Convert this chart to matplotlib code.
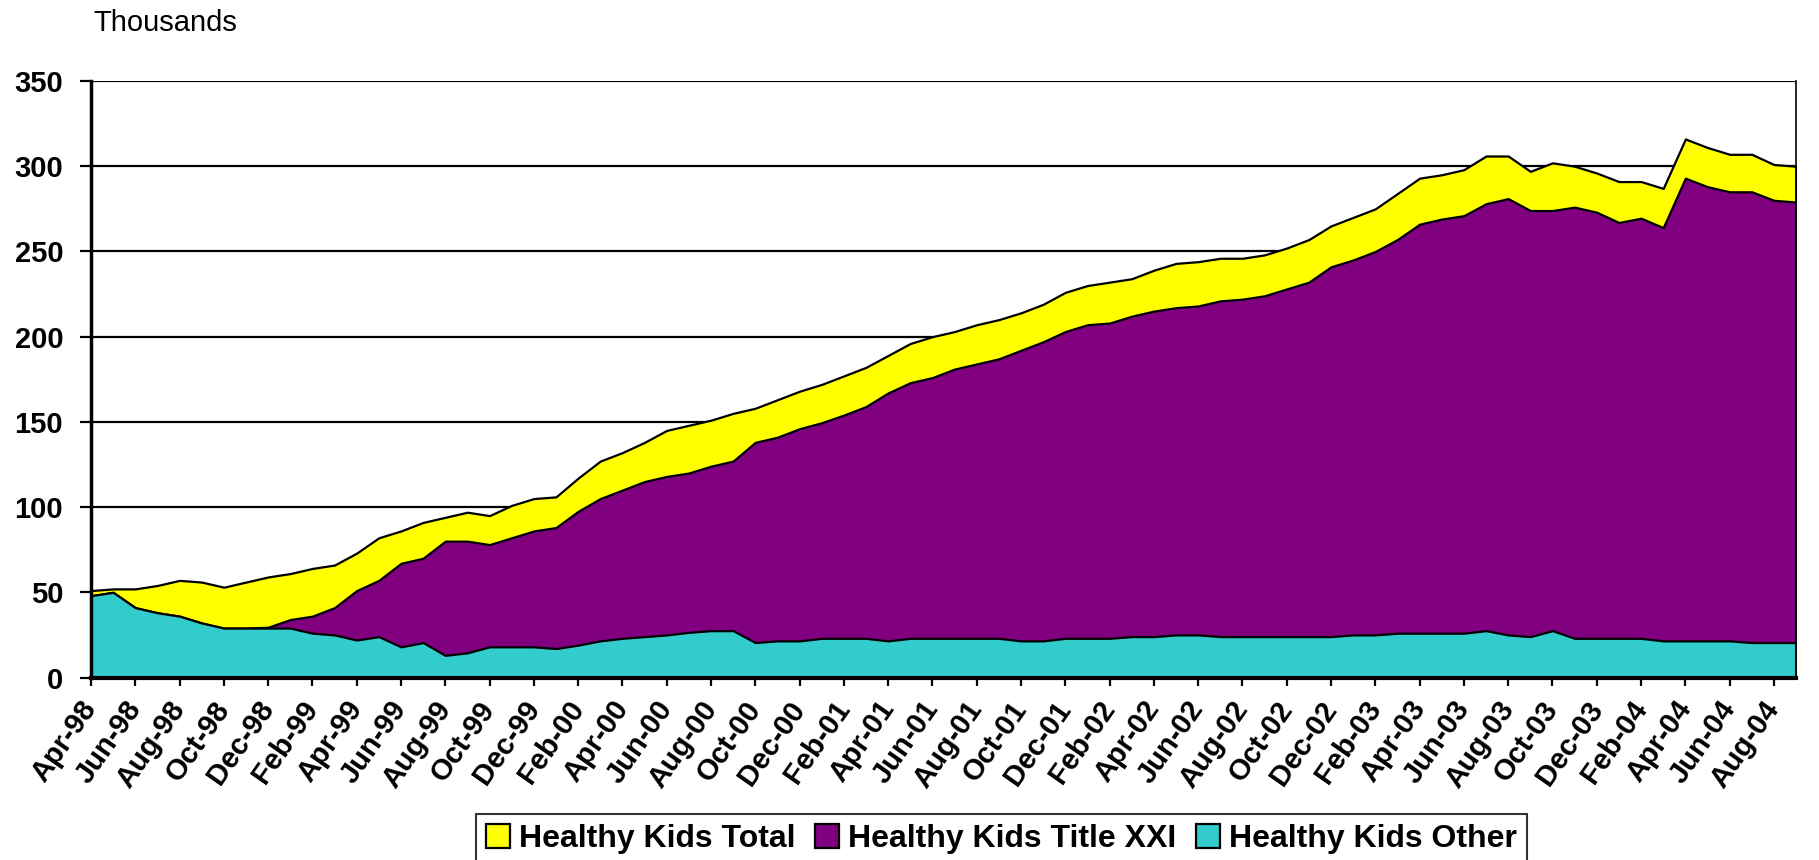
import matplotlib
matplotlib.use("Agg")
import matplotlib.pyplot as plt
import numpy as np

# ---- data (thousands), monthly Apr-98 .. Sep-04 ----
healthy_kids_total = [
    51, 52, 52, 54, 57, 56, 53, 56, 59,
    61, 64, 66, 73, 82, 86, 91, 94, 97, 95, 101, 105,
    106, 117, 127, 132, 138, 145, 148, 151, 155, 158, 163, 168,
    172, 177, 182, 189, 196, 200, 203, 207, 210, 214, 219, 226,
    230, 232, 234, 239, 243, 244, 246, 246, 248, 252, 257, 265,
    270, 275, 284, 293, 295, 298, 306, 306, 297, 302, 300, 296,
    291, 291, 287, 316, 311, 307, 307, 301, 300,
]
healthy_kids_title_xxi = [
    0, 0, 0, 0, 0, 0, 0, 0, 0.5,
    5, 10, 16, 29, 33, 49, 49.5, 67, 65.5, 60, 64, 68,
    71, 78.5, 83.5, 87, 91, 93, 93.5, 96.5, 99.5, 117.5, 119.5, 124.5,
    126.5, 131, 136, 145.5, 150, 153, 158, 161, 164, 170.5, 175.5, 180,
    184, 185, 188, 191, 192, 193, 197, 198, 200, 204, 208, 217,
    220, 225, 231, 240, 243, 245, 250.5, 256, 250, 246.5, 253, 250,
    244, 246.5, 242.5, 271.5, 266.5, 263.5, 264.5, 259.5, 258.5,
]
healthy_kids_other = [
    48, 50, 41, 38, 36, 32, 29, 29, 29,
    29, 26, 25, 22, 24, 18, 20.5, 13, 14.5, 18, 18, 18,
    17, 19, 21.5, 23, 24, 25, 26.5, 27.5, 27.5, 20.5, 21.5, 21.5,
    23, 23, 23, 21.5, 23, 23, 23, 23, 23, 21.5, 21.5, 23,
    23, 23, 24, 24, 25, 25, 24, 24, 24, 24, 24, 24,
    25, 25, 26, 26, 26, 26, 27.5, 25, 24, 27.5, 23, 23,
    23, 23, 21.5, 21.5, 21.5, 21.5, 20.5, 20.5, 20.5,
]
tick_labels = [
    "Apr-98", "Jun-98", "Aug-98", "Oct-98", "Dec-98",
    "Feb-99", "Apr-99", "Jun-99", "Aug-99", "Oct-99", "Dec-99",
    "Feb-00", "Apr-00", "Jun-00", "Aug-00", "Oct-00", "Dec-00",
    "Feb-01", "Apr-01", "Jun-01", "Aug-01", "Oct-01", "Dec-01",
    "Feb-02", "Apr-02", "Jun-02", "Aug-02", "Oct-02", "Dec-02",
    "Feb-03", "Apr-03", "Jun-03", "Aug-03", "Oct-03", "Dec-03",
    "Feb-04", "Apr-04", "Jun-04", "Aug-04",
]
series_names = ["Healthy Kids Total", "Healthy Kids Title XXI", "Healthy Kids Other"]
colors = ["#FFFF00", "#800080", "#33CCCC"]

plt.rcParams['font.family'] = ['Liberation Sans', 'DejaVu Sans']

total = np.array(healthy_kids_total, dtype=float)
xxi = np.array(healthy_kids_title_xxi, dtype=float)
other = np.array(healthy_kids_other, dtype=float)
x = np.arange(len(total))

fig = plt.figure(figsize=(18.19, 8.60), dpi=100)
ax = fig.add_axes([0.050, 0.2122, 0.9374, 0.6936])

lw = 1.6
ax.fill_between(x, 0, total, facecolor=colors[0], edgecolor="black", linewidth=lw, zorder=2, label=series_names[0])
ax.fill_between(x, 0, other + xxi, facecolor=colors[1], edgecolor="black", linewidth=lw, zorder=3, label=series_names[1])
ax.fill_between(x, 0, other, facecolor=colors[2], edgecolor="black", linewidth=lw, zorder=4, label=series_names[2])

ax.set_xlim(0, len(total) - 1)
ax.set_ylim(0, 350)
ax.set_yticks(np.arange(0, 351, 50))
ax.yaxis.grid(True, color="black", linewidth=1.6, zorder=0)
ax.set_axisbelow(True)

ax.set_xticks(x[::2])
ax.set_xticklabels(tick_labels, rotation=55, ha="right", va="center",
                   rotation_mode="anchor", fontsize=21, fontweight="bold")
for lab in ax.get_yticklabels():
    lab.set_fontsize(21)
    lab.set_fontweight("bold")

ax.tick_params(axis="y", direction="out", length=8, width=1.6, pad=12)
ax.tick_params(axis="x", direction="out", length=6, width=1.6, pad=13)

ax.spines["left"].set_linewidth(2.5)
ax.spines["bottom"].set_linewidth(3)
ax.spines["top"].set_visible(False)
ax.spines["right"].set_linewidth(1.2)
for s in ax.spines.values():
    s.set_zorder(6)

fig.text(93 / 1819, 1 - 23 / 860, "Thousands", fontsize=21, ha="left", va="center")

handles, labels = ax.get_legend_handles_labels()
leg = fig.legend(handles, labels, loc="upper center", bbox_to_anchor=(0.5505, 0.053),
                 ncol=3, frameon=True, fancybox=False, edgecolor="black",
                 prop={"size": 23, "weight": "bold"}, handlelength=0.75, handleheight=0.75,
                 handletextpad=0.3, columnspacing=0.6, borderpad=0.3, borderaxespad=0)
leg.get_frame().set_linewidth(1.5)

fig.savefig("out.png", dpi=100)
